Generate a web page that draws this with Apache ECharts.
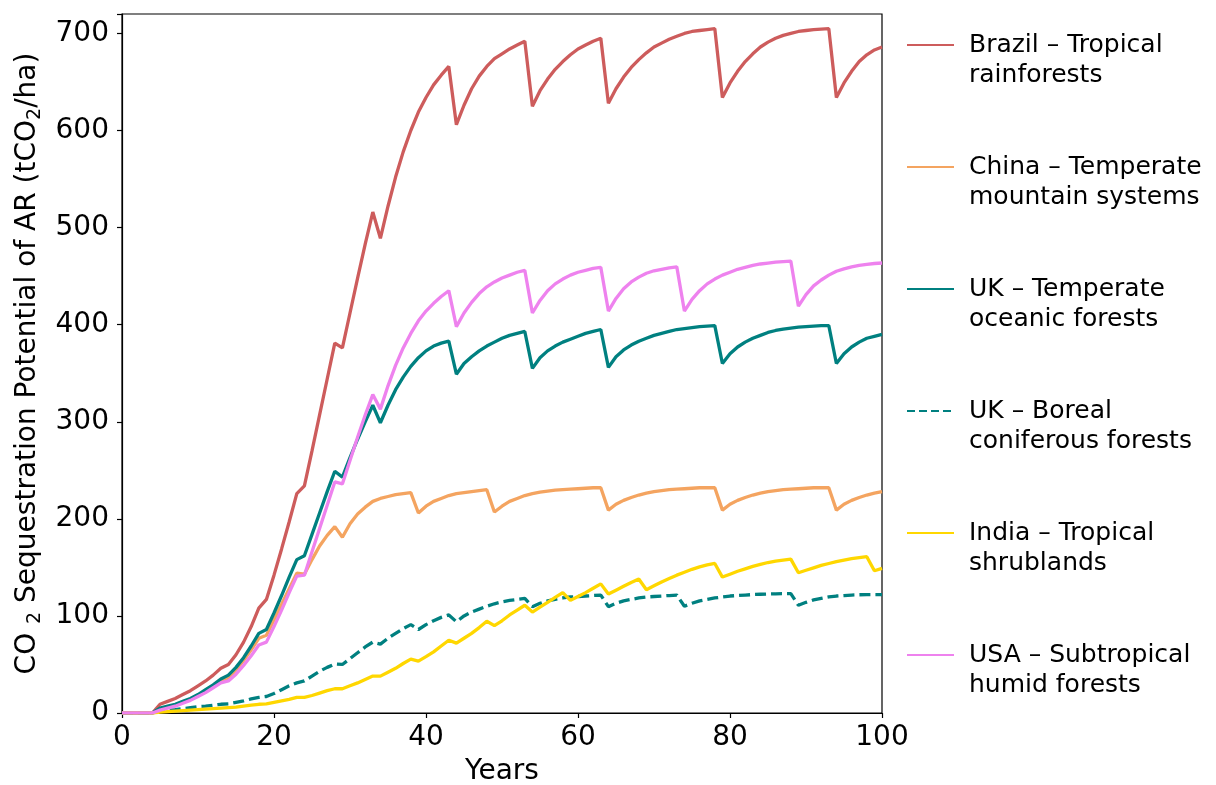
<!DOCTYPE html>
<html>
<head>
<meta charset="utf-8">
<script src="https://cdn.jsdelivr.net/npm/echarts@6/dist/echarts.min.js"></script>
<style>
  html, body { margin: 0; padding: 0; background: #fff; }
  #main { width: 1216px; height: 785px; }
</style>
</head>
<body>
<div id="main"></div>
<script>
var chartDom = document.getElementById('main');
var myChart = echarts.init(chartDom);

// years 0..100
var years = [];
for (var y = 0; y <= 100; y++) years.push(y);

var seriesNames = [
    'Brazil – Tropical\nrainforests',
    'China – Temperate\nmountain systems',
    'UK – Temperate\noceanic forests',
    'UK – Boreal\nconiferous forests',
    'India – Tropical\nshrublands',
    'USA – Subtropical\nhumid forests'
];

var brazil = [0, 0, 0, 0, 0, 9, 12, 15, 19, 23,
    28, 33, 39, 46, 50, 60, 73, 89, 108, 117,
    142, 169, 197, 226, 234, 270, 307, 344, 381, 376,
    412, 448, 483, 516, 489, 522, 552, 578, 600, 619,
    634, 647, 657, 666, 606, 626, 643, 656, 666, 674,
    679, 684, 688, 692, 625, 641, 653, 663, 671, 678,
    684, 688, 692, 695, 628, 643, 655, 665, 673, 680,
    686, 690, 694, 697, 700, 702, 703, 704, 705, 634,
    649, 661, 671, 679, 686, 691, 695, 698, 700, 702,
    703, 704, 704.5, 705, 634, 649, 661, 671, 678, 683,
    686];

var china = [0, 0, 0, 0, 0, 4, 6, 8, 11, 14,
    18, 23, 28, 33, 36, 44, 54, 65, 77, 80,
    96, 112, 128, 144, 143, 158, 172, 183, 192, 181,
    195, 205, 212, 218, 221, 223, 225, 226, 227, 206,
    213, 218, 221, 224, 226, 227, 228, 229, 230, 207,
    213, 218, 221, 224, 226, 227.5, 228.5, 229.5, 230, 230.5,
    231, 231.5, 232, 232, 209, 215, 219, 222, 224.5, 226.5,
    228, 229, 230, 230.5, 231, 231.5, 232, 232, 232, 209,
    215, 219, 222, 224.5, 226.5, 228, 229, 230, 230.5, 231,
    231.5, 232, 232, 232, 209, 215, 219, 222, 224.5, 226.5,
    228];

var ukTemperate = [0, 0, 0, 0, 0, 5, 7, 9, 12, 15,
    19, 24, 29, 35, 39, 47, 57, 69, 82, 86,
    103, 121, 140, 158, 162, 184, 206, 228, 249, 243,
    263, 282, 300, 317, 299, 317, 333, 346, 357, 366,
    373, 378, 381, 383, 349, 360, 367, 373, 378, 382,
    386, 389, 391, 393, 355, 366, 373, 378, 382, 385,
    388, 391, 393, 395, 356, 367, 374, 379, 383, 386,
    389, 391, 393, 395, 396, 397, 398, 398.5, 399, 360,
    370, 377, 382, 386, 389, 392, 394, 395.5, 396.5, 397.5,
    398, 398.5, 399, 399, 360, 370, 377, 382, 386, 388,
    390];

var ukBoreal = [0, 0, 0, 0, 0, 2, 3, 3.5, 4.5, 5.5,
    6.5, 7, 8, 9, 9.5, 11, 12.5, 14.5, 16, 17,
    20, 24, 28, 31, 33, 38, 43, 47, 50.5, 50,
    56, 62, 68, 73, 71, 77, 82, 87, 91, 86,
    91, 95, 98.5, 101, 94, 100, 104, 107, 110, 112.5,
    114.5, 116, 117, 118, 109.5, 113, 115.5, 117, 118.5, 119.5,
    120, 120.5, 121, 121.5, 109.5, 113, 115.5, 117, 118.5, 119.5,
    120, 120.5, 121, 121.5, 110, 113, 115.5, 117, 118.5, 119.5,
    120.5, 121, 121.5, 122, 122.3, 122.6, 122.8, 123, 123, 111,
    114, 116.5, 118, 119.5, 120.5, 121, 121.5, 121.8, 122, 122,
    122];

var india = [0, 0, 0, 0, 0, 1, 1.5, 2, 2.5, 3,
    3.5, 4, 4.5, 5, 5.5, 6, 7, 8, 9, 9.5,
    11, 12.5, 14, 16, 16, 18, 20.5, 23, 25, 25,
    28, 31, 34.5, 38, 38, 42, 46, 51, 55.5, 53.5,
    58, 63, 69, 75, 72, 77, 82, 88, 94.5, 90,
    95, 101, 106, 111, 104, 109, 114, 119, 124, 116,
    120, 124, 128.5, 133, 122.5, 126.5, 130.5, 134.5, 138, 127,
    131, 135, 138.5, 142, 145, 148, 150.5, 152.5, 154, 140,
    143, 146, 148.5, 151, 153, 155, 156.5, 157.5, 158.5, 144.5,
    147, 149.5, 152, 154, 156, 157.5, 159, 160, 161, 146.5,
    149];

var usa = [0, 0, 0, 0, 0, 3, 5, 7, 10, 13,
    17, 21, 26, 31, 33, 40, 49, 59, 70, 73,
    89, 106, 124, 141, 142, 166, 190, 214, 238, 236,
    260, 284, 307, 328, 313, 337, 358, 376, 391, 404,
    414, 422, 429, 435, 398, 412, 423, 432, 439, 444,
    448, 451, 454, 456, 412, 425, 435, 442, 447, 451,
    454, 456, 458, 459, 414, 427, 437, 444, 449, 453,
    455.5, 457, 458.5, 459.5, 414, 426, 435, 442, 447, 451,
    454, 457, 459, 461, 462.5, 463.5, 464.5, 465, 465.5, 419,
    431, 440, 446, 451, 455, 457.5, 459.5, 461, 462, 463,
    463.5];

var colors = ['#CD5C5C', '#F4A460', '#008080', '#008080', '#FFD700', '#EE82EE'];
var allData = [brazil, china, ukTemperate, ukBoreal, india, usa];

var font = 'DejaVu Sans';

function pairs(vals) {
    return years.map(function (yr, i) { return [yr, vals[i]]; });
}

var series = [];
for (var i = 0; i < allData.length; i++) {
    series.push({
        name: seriesNames[i],
        type: 'line',
        data: pairs(allData[i]),
        symbol: 'none',
        animation: false,
        lineStyle: {
            color: colors[i],
            width: 3.3,
            type: i === 3 ? [11, 5] : 'solid'
        },
        itemStyle: { color: colors[i] }
    });
}

// legend entries; the dashed one gets shorter dashes like the reference
var legendData = seriesNames.map(function (n, i) {
    return i === 3 ? { name: n, lineStyle: { type: [8, 4] } } : { name: n };
});

var option = {
    backgroundColor: '#fff',
    textStyle: { fontFamily: font },
    grid: {
        left: 122, right: 334, top: 14, bottom: 72,
        show: true, borderColor: '#000', borderWidth: 1.2,
        containLabel: false,
        outerBoundsMode: 'none'
    },
    legend: {
        orient: 'vertical',
        left: 906, top: 0, padding: 0,
        itemWidth: 47, itemHeight: 14, itemGap: 32,
        itemStyle: { opacity: 0 },
        // blank first line so the sample line sits on the first text line
        formatter: function (name) { return '\n' + name; },
        textStyle: {
            fontFamily: font, fontSize: 25, color: '#000',
            lineHeight: 30, padding: [0, 0, 0, 10]
        },
        data: legendData
    },
    xAxis: {
        type: 'value', min: 0, max: 100, interval: 20,
        name: 'Years', nameLocation: 'middle', nameGap: 45,
        nameTextStyle: { fontFamily: font, fontSize: 28, color: '#000' },
        axisLine: { show: true, onZero: false, lineStyle: { color: '#000', width: 1.2 } },
        axisTick: { show: true, length: 5, lineStyle: { color: '#000', width: 1.2 } },
        axisLabel: { fontFamily: font, fontSize: 28, color: '#000', margin: 11 },
        splitLine: { show: false }
    },
    yAxis: {
        type: 'value', min: 0, max: 720, interval: 100,
        name: '{a|CO }{s|2}{a| Sequestration Potential of AR (tCO}{s|2}{a|/ha)}',
        nameLocation: 'middle', nameGap: 77,
        nameTextStyle: {
            rich: {
                a: { fontFamily: font, fontSize: 28, color: '#000', lineHeight: 34 },
                s: { fontFamily: font, fontSize: 19, color: '#000', lineHeight: 22, verticalAlign: 'bottom', padding: [9, 0, 0, 0] }
            }
        },
        axisLine: { show: true, lineStyle: { color: '#000', width: 1.2 } },
        axisTick: { show: true, length: 5, lineStyle: { color: '#000', width: 1.2 } },
        axisLabel: {
            fontFamily: font, fontSize: 28, color: '#000', margin: 13,
            formatter: function (v) { return v % 100 === 0 ? String(v) : ''; }
        },
        splitLine: { show: false }
    },
    series: series
};
option && myChart.setOption(option);
</script>
</body>
</html>
